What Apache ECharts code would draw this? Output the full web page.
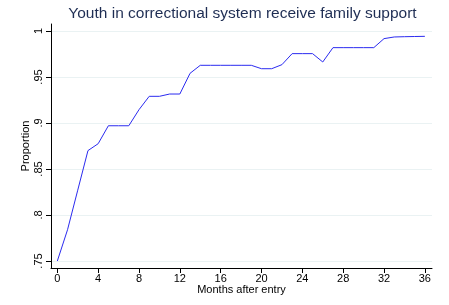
<!DOCTYPE html>
<html>
<head>
<meta charset="utf-8">
<script src="https://cdn.jsdelivr.net/npm/echarts@6/dist/echarts.min.js"></script>
<style>
  html, body { margin: 0; padding: 0; background: #fff; }
  #chart { width: 449px; height: 305px; }
</style>
</head>
<body>
<div id="chart"></div>
<script>
// months after entry
let months = [0, 1, 2, 3, 4, 5, 6, 7, 8, 9, 10, 11, 12, 13, 14, 15, 16, 17, 18,
  19, 20, 21, 22, 23, 24, 25, 26, 27, 28, 29, 30, 31, 32, 33, 34, 35, 36];
// proportion receiving family support
let proportion = [0.75, 0.784, 0.827, 0.87, 0.8775, 0.897, 0.897, 0.897, 0.9145,
  0.929, 0.929, 0.9315, 0.9315, 0.954, 0.9627, 0.9627, 0.9627, 0.9627, 0.9627,
  0.9627, 0.959, 0.959, 0.9634, 0.9754, 0.9754, 0.9754, 0.9663, 0.9819, 0.9819,
  0.9819, 0.9819, 0.9819, 0.9917, 0.9935, 0.9938, 0.994, 0.9942];
let xTicks = [0, 4, 8, 12, 16, 20, 24, 28, 32, 36];
let yTicks = [0.75, 0.8, 0.85, 0.9, 0.95, 1];

let myChart = echarts.init(document.getElementById("chart"));
let font = "Liberation Sans, Arial, sans-serif";

let option = {
  backgroundColor: "#ffffff",
  animation: false,
  title: {
    text: "Youth in correctional system receive family support",
    left: 237.5,
    textAlign: "center",
    top: 1,
    textStyle: {
      fontFamily: font,
      fontSize: 15.5,
      fontWeight: "normal",
      color: "#1e2d53",
    },
  },
  grid: {
    left: 51,
    right: 17,
    top: 24,
    bottom: 37,
    containLabel: false,
  },
  xAxis: {
    type: "value",
    min: -0.62,
    max: 36.7,
    name: "Months after entry",
    nameLocation: "middle",
    nameGap: 16,
    nameMoveOverlap: false,
    nameTextStyle: { fontFamily: font, fontSize: 11, color: "#000" },
    axisLine: { show: true, onZero: false, lineStyle: { color: "#000", width: 1 } },
    axisTick: { show: true, length: 5, customValues: xTicks, lineStyle: { color: "#000" } },
    axisLabel: {
      customValues: xTicks,
      margin: 5,
      fontFamily: font,
      fontSize: 11,
      color: "#000",
    },
    splitLine: { show: false },
  },
  yAxis: {
    type: "value",
    min: 0.7424,
    max: 1.0076,
    name: "Proportion",
    nameLocation: "middle",
    nameGap: 20,
    nameRotate: 90,
    nameMoveOverlap: false,
    nameTextStyle: { fontFamily: font, fontSize: 11, color: "#000" },
    axisLine: { show: true, onZero: false, lineStyle: { color: "#000", width: 1 } },
    axisTick: { show: true, length: 5, customValues: yTicks, lineStyle: { color: "#000" } },
    axisLabel: {
      customValues: yTicks,
      rotate: 90,
      margin: 7,
      fontFamily: font,
      fontSize: 11,
      color: "#000",
      formatter: (v) => (Math.abs(v - 1) < 1e-9 ? "1" : String(+v.toFixed(2)).replace(/^0/, "")),
    },
    splitLine: { show: true, lineStyle: { color: "#eaf2f3", width: 1 } },
  },
  series: [
    {
      type: "line",
      data: months.map((m, i) => [m, proportion[i]]),
      symbol: "none",
      lineStyle: { color: "#2b2bf0", width: 1 },
    },
  ],
};
myChart.setOption(option);
</script>
</body>
</html>
